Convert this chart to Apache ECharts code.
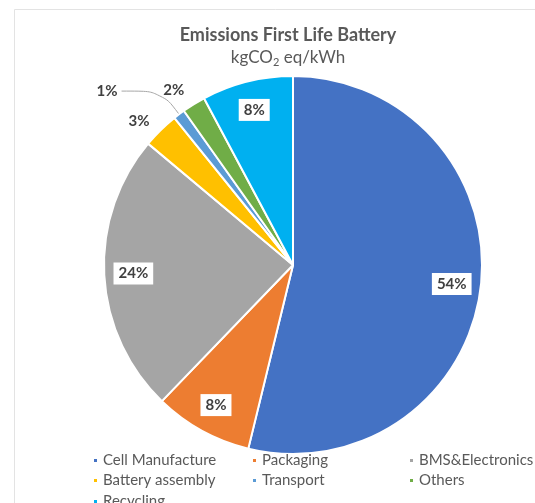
<!DOCTYPE html>
<html><head><meta charset="utf-8">
<script src="https://cdn.jsdelivr.net/npm/echarts@6/dist/echarts.min.js"></script>
<style>html,body{margin:0;padding:0;background:#fff}#c{width:535px;height:503px}</style>
</head><body><div id="c"></div>
<script>
const categories = ['Cell Manufacture','Packaging','BMS&Electronics','Battery assembly','Transport','Others','Recycling'];
const shares = [53.8, 8.4, 23.9, 3.1, 1.0, 2.0, 7.8];
const colors = ['#4472C4','#ED7D31','#A5A5A5','#FFC000','#5B9BD5','#70AD47','#00B0F0'];
const titleText = 'Emissions First Life Battery';
const subtitleText = '{n|kgCO}{s|2}{n| eq/kWh}';

const chart = echarts.init(document.getElementById('c'));
const FONT = 'Lato';
const center = [293, 265];
const R = 189;

const insideLabel = {position:'inside', show:true, backgroundColor:'#fff', padding:[4,5,3,5],
  color:'#404040', fontFamily:FONT, fontWeight:'bold', fontSize:15};
const outsideCfg = {
  'Battery assembly': {len:13, len2:0, line:false, dist:2},
  'Transport': {len:29, len2:40, line:true, dist:4},
  'Others': {len:16, len2:0, line:false, dist:1}
};
const labelData = categories.map((n,i)=>{
  const o = outsideCfg[n];
  if (o) {
    return {name:n, value:shares[i],
      label:{show:true, position:'outside', color:'#404040', fontFamily:FONT, fontWeight:'bold', fontSize:15, distanceToLabelLine:o.dist},
      labelLine:{show:o.line, length:o.len, length2:o.len2, smooth:0.4, lineStyle:{color:'#a6a6a6', width:1}}};
  }
  return {name:n, value:shares[i], label:insideLabel};
});

const legendFont = {color:'#595959', fontFamily:FONT, fontSize:15};
function legendCol(names, left, top){
  return {data:names, orient:'vertical', left:left, top:top, itemWidth:5, itemHeight:5, itemGap:5,
    icon:'rect', textStyle:legendFont, padding:0, selectedMode:false};
}

chart.setOption({
  animation:false,
  color:colors,
  graphic:[{type:'rect', left:12, top:7, shape:{width:600, height:600}, style:{fill:'none', stroke:'#e3e3e3', lineWidth:1}, z:-1}],
  title:[
    {text:titleText, left:283, top:21, textAlign:'center', textStyle:{fontFamily:FONT, fontWeight:'bold', fontSize:18, color:'#595959'}},
    {text:subtitleText, left:283, top:43, textAlign:'center', textStyle:{fontWeight:'normal', rich:{
      n:{fontFamily:FONT, fontWeight:'normal', fontSize:17, color:'#595959'},
      s:{fontFamily:FONT, fontWeight:'normal', fontSize:11, color:'#595959', verticalAlign:'bottom', padding:[9,0,0,0]}}}}
  ],
  legend:[
    legendCol([categories[0],categories[3]], 92, 453),
    legendCol([categories[6]], 92, 494),
    legendCol([categories[1],categories[4]], 251, 453),
    legendCol([categories[2],categories[5]], 408, 453)
  ],
  series:[
    {type:'pie', name:'main', center:center, radius:[0,R], startAngle:90, clockwise:true,
     avoidLabelOverlap:false, silent:true,
     itemStyle:{borderColor:'#fff', borderWidth:2},
     label:{show:false}, labelLine:{show:false},
     data:categories.map((n,i)=>({name:n, value:shares[i]}))},
    {type:'pie', name:'labels', center:center, radius:[R*0.66, R], startAngle:90, clockwise:true,
     avoidLabelOverlap:false, silent:true,
     itemStyle:{color:'rgba(0,0,0,0)', borderWidth:0},
     label:{formatter:p=>Math.round(p.percent)+'%'},
     data:labelData}
  ]
});
</script></body></html>
